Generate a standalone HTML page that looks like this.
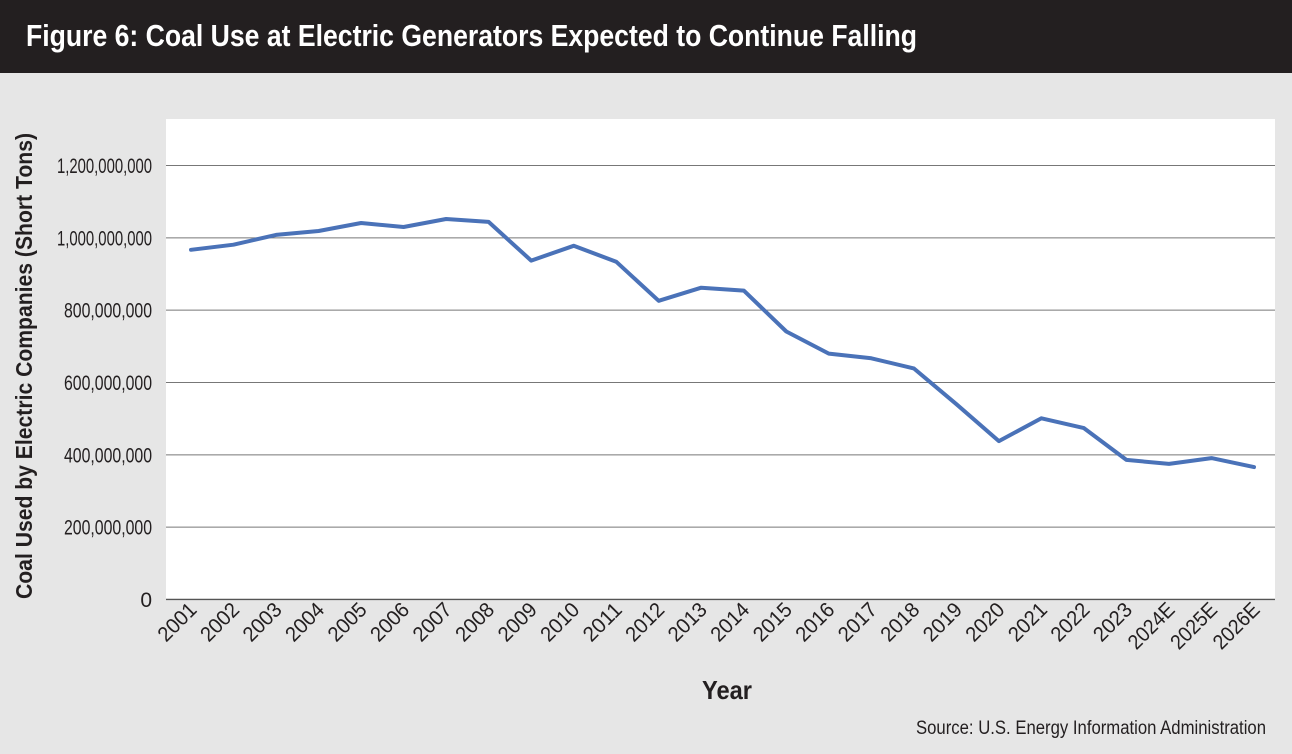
<!DOCTYPE html>
<html><head><meta charset="utf-8"><style>
html,body{margin:0;padding:0;background:#e6e6e6;}
svg{display:block;font-family:"Liberation Sans Narrow","Liberation Sans",sans-serif;}
</style></head><body>
<svg id="chart" width="1292" height="754" viewBox="0 0 1292 754">
<rect x="0" y="0" width="1292" height="754" fill="#e6e6e6"/>
<rect x="0" y="0" width="1292" height="73" fill="#231f20"/>
<text x="26" y="46" fill="#fff" font-size="31" font-weight="bold" textLength="891" lengthAdjust="spacingAndGlyphs">Figure 6: Coal Use at Electric Generators Expected to Continue Falling</text>
<rect x="166" y="119" width="1109" height="482" fill="#fff"/>
<g id="grid"></g>
<g id="xlabels"></g>
<path id="line" fill="none" stroke="#4a72b8" stroke-width="4" stroke-linejoin="round" stroke-linecap="round"/>
<text transform="translate(32,366) rotate(-90)" text-anchor="middle" font-size="23" font-weight="bold" fill="#231f20" textLength="466" lengthAdjust="spacingAndGlyphs">Coal Used by Electric Companies (Short Tons)</text>
<text x="727" y="699" text-anchor="middle" font-size="26" font-weight="bold" fill="#231f20" textLength="50" lengthAdjust="spacingAndGlyphs">Year</text>
<text x="1266" y="734" text-anchor="end" font-size="19" fill="#231f20" textLength="350" lengthAdjust="spacingAndGlyphs">Source: U.S. Energy Information Administration</text>
</svg>
<script>
const categories=["2001","2002","2003","2004","2005","2006","2007","2008","2009","2010","2011","2012","2013","2014","2015","2016","2017","2018","2019","2020","2021","2022","2023","2024E","2025E","2026E"];
const coalValues=[967e6,981e6,1008e6,1019e6,1041e6,1030e6,1052e6,1044e6,937e6,978e6,934e6,826e6,862e6,854e6,741e6,680e6,667e6,639e6,540e6,438e6,501e6,474e6,386e6,375e6,391e6,366e6];
const yTicks=[0,200e6,400e6,600e6,800e6,1000e6,1200e6];
const yTickLabels=["0","200,000,000","400,000,000","600,000,000","800,000,000","1,000,000,000","1,200,000,000"];
const NS="http://www.w3.org/2000/svg";
function y(v){return 599.5-v*(599.5-165.5)/1200e6;}
function x(i){return 191+i*(1254-191)/(categories.length-1);}
const grid=document.getElementById('grid');
yTicks.forEach((t,i)=>{
 const l=document.createElementNS(NS,'line');
 l.setAttribute('x1',166);l.setAttribute('x2',1275);l.setAttribute('y1',y(t));l.setAttribute('y2',y(t));
 l.setAttribute('stroke',i==0?'#555':'#777');l.setAttribute('stroke-width',i==0?1.5:1);
 
 
 grid.appendChild(l);
 const tx=document.createElementNS(NS,'text');
 tx.setAttribute('x',152);tx.setAttribute('y',y(t)+7.5);tx.setAttribute('text-anchor','end');
 tx.setAttribute('font-size','21');tx.setAttribute('fill','#231f20');
 if(yTickLabels[i].length>5){tx.setAttribute('textLength',yTickLabels[i].length>11?95:88);tx.setAttribute('lengthAdjust','spacingAndGlyphs');}
 tx.textContent=yTickLabels[i];
 
 
 grid.appendChild(tx);
});
const xl=document.getElementById('xlabels');
categories.forEach((c,i)=>{
 const tx=document.createElementNS(NS,'text');
 tx.setAttribute('transform','translate('+(x(i)+7)+',611) rotate(-45)');
 tx.setAttribute('text-anchor','end');tx.setAttribute('font-size','21');tx.setAttribute('fill','#231f20');
 tx.setAttribute('textLength',c.length>4?56:45);tx.setAttribute('lengthAdjust','spacingAndGlyphs');
 tx.textContent=c;
 
 
 xl.appendChild(tx);
});
document.getElementById('line').setAttribute('d',coalValues.map((v,i)=>(i?'L':'M')+x(i).toFixed(1)+','+y(v).toFixed(1)).join(' '));
</script>
</body></html>
